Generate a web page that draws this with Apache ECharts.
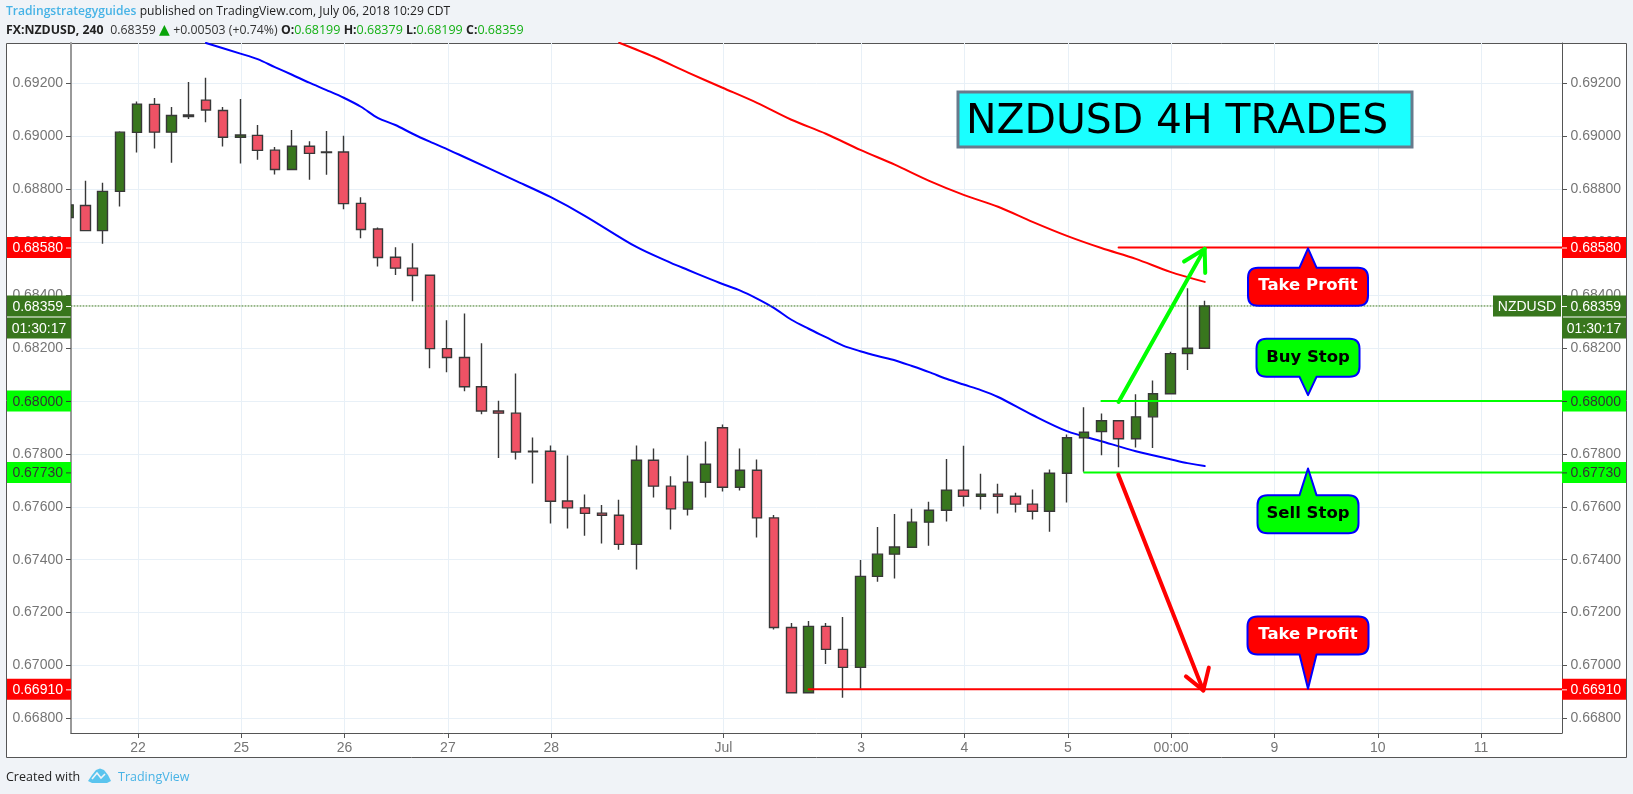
<!DOCTYPE html>
<html>
<head>
<meta charset="utf-8">
<title>NZDUSD 4H Trades</title>
<script src="https://cdn.jsdelivr.net/npm/echarts@6/dist/echarts.min.js"></script>
<style>html,body{margin:0;padding:0;background:#f0f3f7}#c{width:1633px;height:794px}</style>
</head>
<body>
<div id="c"></div>
<script>
// ---- candles (bar number is the index in each array) ----
const opens  = [.68693,.68739,.68644,.68792,.69015,.69121,.69016,.69081,.69137,.69098,.68997,.69004,.68948,.68875,.68963,.68941,.68941,.68747,.6865,.68543,.68502,.68475,.68198,.68164,.68054,.67962,.67954,.6781,.6781,.67622,.67596,.67576,.67568,.67458,.67776,.67678,.67591,.67693,.67899,.67674,.67738,.67558,.67144,.66897,.67148,.67061,.66993,.67337,.67421,.67447,.67542,.67587,.67663,.6764,.67648,.6764,.6761,.67583,.67727,.67861,.67884,.67925,.67857,.6794,.68027,.68179,.68199];
const closes = [.68741,.68644,.68792,.69016,.69122,.69016,.69079,.69075,.6910,.68997,.69005,.68947,.68875,.68963,.68936,.68939,.68746,.68648,.68542,.68502,.68474,.68198,.68164,.68054,.67962,.67954,.67807,.67808,.67621,.67596,.67575,.67568,.67458,.67776,.67678,.67592,.67693,.67761,.67674,.67738,.67558,.67144,.66897,.67148,.67061,.66993,.67337,.67421,.67448,.67542,.67587,.67663,.6764,.67648,.6764,.6761,.67583,.67727,.67861,.67882,.67925,.67857,.6794,.68027,.68179,.68199,.68359];
const lows   = [.68693,.68644,.68594,.68735,.68939,.68954,.6890,.69066,.69053,.68962,.68898,.68912,.68856,.68875,.68836,.68855,.68725,.68615,.68508,.68476,.68377,.68124,.68109,.68037,.6795,.67784,.67779,.67688,.67537,.67518,.67491,.67461,.67438,.67363,.67635,.67514,.67567,.67635,.67658,.67662,.67484,.67136,.66897,.66897,.67006,.66878,.66912,.67317,.67329,.67447,.67453,.67544,.67601,.6759,.67575,.67578,.67552,.67506,.67616,.67732,.67795,.67749,.67824,.67822,.68027,.68117,.68199];
const highs  = [.68741,.68832,.68825,.69019,.69132,.69145,.69111,.69206,.69222,.69111,.69141,.69043,.6896,.69024,.68982,.6902,.69002,.6877,.68656,.68581,.68596,.68475,.68305,.68331,.68218,.68001,.68104,.67862,.67832,.67794,.67646,.67607,.67627,.67832,.6782,.67715,.67794,.67847,.67911,.6782,.67779,.67569,.67161,.67168,.67161,.67183,.67399,.67524,.67573,.67593,.67619,.67781,.67831,.67725,.67687,.67653,.67665,.67741,.67873,.67976,.67953,.67925,.68025,.68077,.68186,.68426,.68379];

// ---- moving averages, read at these bar numbers ----
const blueBars = [8,10,11,12,13,14,15,16,17,18,19,20,21,22,23,26,28,30,33,35,36,37,38,39,40,41,42,43,44,45,46,47,48,49,50,51,52,53,54,56,58,60,62,64,65,66];
const blueVals = [.69353,.69313,.69292,.69262,.69233,.69203,.69175,.69146,.69112,.69069,.69043,.6901,.6898,.68952,.68922,.68832,.68771,.687,.68582,.68522,.68495,.68468,.68442,.68418,.68387,.68351,.68307,.68273,.68241,.68209,.68188,.6817,.68154,.68132,.68109,.68084,.68062,.68041,.68015,.67947,.67886,.67848,.6781,.6778,.67765,.67754];
const redBars  = [32,34,36,38,40,42,44,46,48,50,52,54,56,58,60,62,64,66];
const redVals  = [.69354,.69301,.69241,.69184,.69127,.69063,.6901,.68949,.68893,.68832,.68779,.68734,.68677,.68624,.68578,.68537,.68488,.6845];

// ---- axis ticks ----
const yTicks = [.668,.67,.672,.674,.676,.678,.68,.682,.684,.686,.688,.69,.692];
const dayTickBars   = [4,10,16,22,28,38,46,52,58,64,70,76,82];
const dayTickLabels = ['22','25','26','27','28','Jul','3','4','5','00:00','9','10','11'];

// ---- levels and drawings ----
const levelVals  = [.6858,.68,.6773,.6691];
const levelStart = [61,60,59,43];
const lastPrice  = .68359;
const countdown  = '01:30:17';
const symbolName = 'NZDUSD';
const greenArrowBars = [61,66], greenArrowVals = [.67996,.68575];
const greenHeadBars  = [64.8,66,66.03], greenHeadVals = [.68527,.68575,.68484];
const redArrowBars   = [60.98,65.92], redArrowVals = [.67722,.66906];
const redHeadBars    = [64.91,65.92,66.24], redHeadVals = [.66959,.66906,.66992];
const calloutTexts = ['Take Profit','Buy Stop','Sell Stop','Take Profit'];
const calloutBars  = [72,72,72,72];
const calloutVals  = [.68577,.68022,.67745,.66912];

// ---- look ----
const XMIN = 0.1626, XMAX = 86.75, YMIN = 0.66745, YMAX = 0.69353, NUDGE = 0.05;
const LEFT = 71, TOP = 43, W = 1491, H = 690, BAR_W = 10;
const GREEN = '#38761d', PINK = '#ef5265', WICK = '#383838';
const AXFONT = '"Liberation Sans", Arial, sans-serif';
const UIFONT = '"Open Sans", sans-serif';
const levelLook = [
  {fill:'#ff0000', text:'#ffffff', line:'#ff0000'},
  {fill:'#00ff00', text:'#333333', line:'#00ff00'},
  {fill:'#00ff00', text:'#333333', line:'#00ff00'},
  {fill:'#ff0000', text:'#ffffff', line:'#ff0000'}
];
const calloutLook = [
  {fill:'#ff0000', text:'#ffffff', dir: 1, gap:19.4, half:60},
  {fill:'#00ff00', text:'#000000', dir:-1, gap:18.3, half:51.5},
  {fill:'#00ff00', text:'#000000', dir: 1, gap:26.7, half:50.5},
  {fill:'#ff0000', text:'#ffffff', dir:-1, gap:34.3, half:60.5}
];

function pairs(xs, ys){ return xs.map((x,i)=>[x,ys[i]]); }
function lineSeries(data, color, width, z, dash, smooth){
  return {type:'line', data, symbol:'none', silent:true, z, clip:true, animation:false, smooth:smooth||false,
    lineStyle:{color, width, type:dash||'solid', cap:'round', join:'round'}};
}

function renderTag(params, api){
  const k = params.dataIndex;
  const y = api.coord([XMIN, api.value(1)])[1];
  const xr = api.coord([XMAX, api.value(1)])[0];
  const xl = api.coord([XMIN, api.value(1)])[0];
  const isLast = k === levelVals.length;
  const look = isLast ? {fill:GREEN, text:'#ffffff'} : levelLook[k];
  const font = '14px ' + AXFONT;
  const kids = [];
  function tag(x, yy, w, h, txt, tx, align){
    kids.push({type:'rect', shape:{x, y:yy, width:w, height:h}, style:{fill:look.fill}});
    kids.push({type:'text', style:{text:txt, x:tx, y:yy+h/2+1, fill:look.text, font, textAlign:align, textBaseline:'middle', verticalAlign:'middle'}});
  }
  tag(7, y-10.5, xl-7, 21, api.value(1).toFixed(5), xl-8, 'right');
  tag(xr, y-10.5, 64, 21, api.value(1).toFixed(5), xr+8.5, 'left');
  kids.push({type:'line', shape:{x1:xl-5,y1:y+.5,x2:xl,y2:y+.5}, style:{stroke:look.text,lineWidth:1}});
  kids.push({type:'line', shape:{x1:xr,y1:y+.5,x2:xr+5,y2:y+.5}, style:{stroke:look.text,lineWidth:1}});
  if (isLast){
    tag(7, y+11.5, xl-7, 21, countdown, (7+xl)/2, 'center');
    tag(xr, y+11.5, 64, 21, countdown, xr+32, 'center');
    tag(xr-69, y-10.5, 68, 21, symbolName, xr-35, 'center');
  }
  return {type:'group', children:kids};
}

function renderCallout(params, api){
  const look = calloutLook[params.dataIndex];
  const p = api.coord([api.value(0), api.value(1)]);
  const tx = p[0], ty = p[1], h = 38, r = 10, b = 8.5;
  const L = tx-look.half, R = tx+look.half;
  const T = look.dir>0 ? ty+look.gap : ty-look.gap-h;
  const B = T+h;
  const top = look.dir>0 ? `H${tx-b} L${tx} ${ty} L${tx+b} ${T} ` : '';
  const bot = look.dir<0 ? `H${tx+b} L${tx} ${ty} L${tx-b} ${B} ` : '';
  const d = `M${L+r} ${T} ${top}H${R-r} Q${R} ${T} ${R} ${T+r} V${B-r} Q${R} ${B} ${R-r} ${B} ${bot}H${L+r} Q${L} ${B} ${L} ${B-r} V${T+r} Q${L} ${T} ${L+r} ${T} Z`;
  return {type:'group', children:[
    {type:'path', shape:{pathData:d}, style:{fill:look.fill, stroke:'#0000ff', lineWidth:2, lineJoin:'round'}},
    {type:'text', style:{text:calloutTexts[params.dataIndex], x:tx, y:(T+B)/2-0.5, fill:look.text,
      font:'bold 16.5px "DejaVu Sans", sans-serif', textAlign:'center', textBaseline:'middle', verticalAlign:'middle'}}
  ]};
}

// The first bar sits across the left axis: the candlestick series draws whole bars only, so its visible part is cut here.
function renderCutBar(params, api){
  const c = api.coord([api.value(0), api.value(1)]);
  const d = api.coord([api.value(0), api.value(2)]);
  const xl = api.coord([XMIN, api.value(1)])[0];
  const xr = c[0] + BAR_W/2;
  return {type:'rect', shape:{x:xl, y:d[1], width:Math.max(0,xr-xl), height:c[1]-d[1]},
    style:{fill:GREEN, stroke:WICK, lineWidth:1.4}};
}

const candleData = opens.map((o,i)=>[i,o,closes[i],lows[i],highs[i]]).slice(1);

const option = {
  animation:false,
  backgroundColor:'#f0f3f7',
  grid:{left:LEFT, top:TOP, width:W, height:H, containLabel:false},
  xAxis:{
    type:'value', min:XMIN, max:XMAX,
    axisLine:{show:true, onZero:false, lineStyle:{color:'#555555', width:1}},
    axisTick:{show:true, length:5, customValues:dayTickBars.map(v=>v+NUDGE), lineStyle:{color:'#555555'}},
    axisLabel:{color:'#757575', fontSize:14, fontFamily:AXFONT, margin:8,
      customValues:dayTickBars.map(v=>v+NUDGE),
      formatter:v=>dayTickLabels[dayTickBars.indexOf(Math.round(v-NUDGE))]},
    splitLine:{show:true, lineStyle:{color:'#e8f0f7', width:1}}
  },
  yAxis:[{
    type:'value', min:YMIN, max:YMAX, position:'left',
    axisLine:{show:true, onZero:false, lineStyle:{color:'#999999', width:2}},
    axisTick:{show:true, length:5, customValues:yTicks, lineStyle:{color:'#555555'}},
    axisLabel:{color:'#757575', fontSize:14, fontFamily:AXFONT, margin:8, padding:[3,0,0,0], customValues:yTicks, formatter:v=>v.toFixed(5)},
    splitLine:{show:true, lineStyle:{color:'#e8f0f7', width:1}}
  },{
    type:'value', min:YMIN, max:YMAX, position:'right',
    axisLine:{show:true, onZero:false, lineStyle:{color:'#555555', width:1}},
    axisTick:{show:true, length:5, customValues:yTicks, lineStyle:{color:'#555555'}},
    axisLabel:{color:'#757575', fontSize:14, fontFamily:AXFONT, margin:8.5, padding:[3,0,0,0], customValues:yTicks, formatter:v=>v.toFixed(5)},
    splitLine:{show:false}
  }],
  graphic:[
    {type:'rect', z:-10, silent:true, shape:{x:6.5,y:43.5,width:1620,height:714},
      style:{fill:'#ffffff', stroke:'#555555', lineWidth:1}},
    {type:'text', x:6, y:6, silent:true, style:{
      text:'{a|Tradingstrategyguides} {b|published on TradingView.com, July 06, 2018 10:29 CDT}',
      rich:{a:{fill:'#47b3e6', font:'600 12.1px '+UIFONT}, b:{fill:'#222222', font:'12.1px '+UIFONT}}
    }},
    {type:'text', x:6, y:23, silent:true, style:{
      text:'{h|FX:NZDUSD, 240}  {b|0.68359} {g|\u25B2} {b|+0.00503 (+0.74%)} {h|O:}{v|0.68199} {h|H:}{v|0.68379} {h|L:}{v|0.68199} {h|C:}{v|0.68359}',
      rich:{h:{fill:'#222222', font:'700 12.3px '+UIFONT}, b:{fill:'#333333', font:'12.3px '+UIFONT},
            g:{fill:'#0aa40a', font:'14px "DejaVu Sans"'}, v:{fill:'#14b014', font:'12.5px '+UIFONT}}
    }},
    {type:'text', x:6, y:771, silent:true, style:{
      text:'Created with', fill:'#222222', font:'12.5px '+UIFONT}},
    {type:'polygon', silent:true, shape:{points:[[88,781],[92,775],[96,770],[100,768.5],[104,770],[108,775],[111,781],[107,783],[92,783]]},
      style:{fill:'#5ac4ee'}},
    {type:'polyline', silent:true, z:2, shape:{points:[[92,779],[97,773],[101,778],[105,774]]},
      style:{fill:'none', stroke:'#f0f3f7', lineWidth:1.6}},
    {type:'text', x:118, y:771, silent:true, style:{
      text:'TradingView', fill:'#47b3e6', font:'12.5px '+UIFONT}},
    {type:'rect', z:50, silent:true, shape:{x:958,y:92,width:454,height:55},
      style:{fill:'#1affff', stroke:'#687a8c', lineWidth:3}},
    {type:'text', z:51, silent:true, x:966, y:102, style:{
      text:'NZDUSD 4H TRADES', fill:'#000000', font:'40.8px "DejaVu Sans", sans-serif'}}
  ],
  series:[
    lineSeries(pairs(blueBars,blueVals), '#0000ff', 2, 1, null, 0.3),
    lineSeries(pairs(redBars,redVals), '#ff0000', 2, 1, null, 0.3),
    {type:'candlestick', data:candleData, z:2, barWidth:BAR_W, clip:true, silent:true,
      encode:{x:0,y:[1,2,3,4]},
      itemStyle:{color:GREEN, color0:PINK, borderColor:WICK, borderColor0:WICK, borderWidth:1.4}},
    {type:'custom', renderItem:renderCutBar, z:2, silent:true, encode:{x:0,y:[1,2]}, clip:true,
      data:[[0,closes[0],opens[0]]]},
    lineSeries([[XMIN,lastPrice],[XMAX,lastPrice]], GREEN, 1, 3, [1,2]),
    ...levelVals.map((v,i)=>lineSeries([[levelStart[i],v],[XMAX,v]], levelLook[i].line, 2, 3)),
    lineSeries(pairs(greenArrowBars,greenArrowVals), '#00ff00', 4, 4),
    lineSeries(pairs(greenHeadBars,greenHeadVals), '#00ff00', 4, 4),
    lineSeries(pairs(redArrowBars,redArrowVals), '#ff0000', 4, 4),
    lineSeries(pairs(redHeadBars,redHeadVals), '#ff0000', 4, 4),
    {type:'custom', renderItem:renderCallout, z:5, silent:true, encode:{x:0,y:1}, clip:false,
      data:pairs(calloutBars,calloutVals)},
    {type:'custom', renderItem:renderTag, z:6, silent:true, encode:{x:0,y:1}, clip:false,
      data:[...levelVals,lastPrice].map(v=>[XMIN,v])}
  ]
};
echarts.init(document.getElementById('c')).setOption(option);
</script>
</body>
</html>
